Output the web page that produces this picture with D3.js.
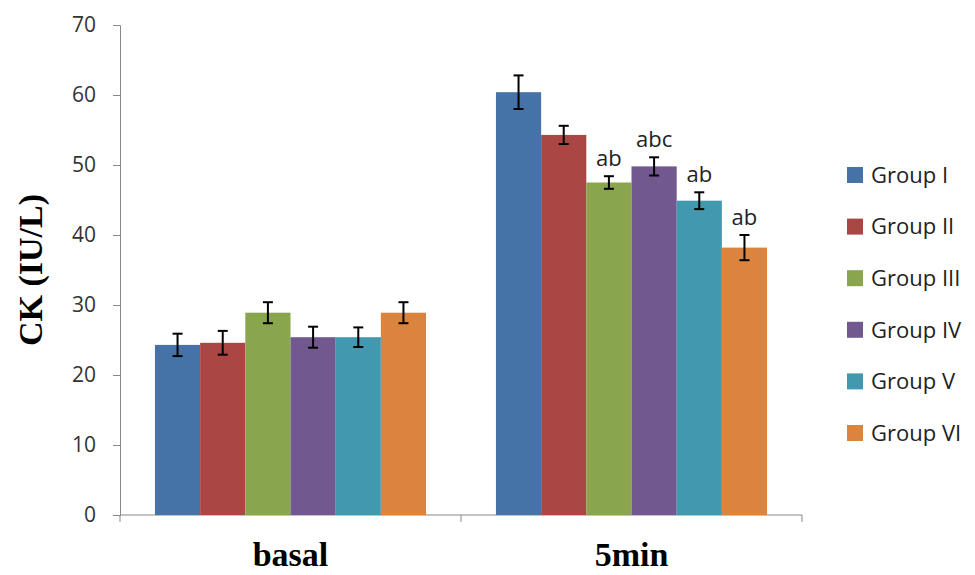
<!DOCTYPE html>
<html>
<head>
<meta charset="utf-8">
<script src="https://cdn.jsdelivr.net/npm/d3@7"></script>
<style>
  body { margin: 0; background: #fff; }
  svg { display: block; }
</style>
</head>
<body>
<div id="chart"></div>
<script>
// values
var categories = ["basal", "5min"];
var groups = ["Group I", "Group II", "Group III", "Group IV", "Group V", "Group VI"];
var basalMeans = [24.3, 24.6, 28.9, 25.4, 25.4, 28.9];
var basalErrs  = [1.6, 1.7, 1.5, 1.5, 1.4, 1.5];
var minMeans   = [60.4, 54.3, 47.5, 49.8, 44.9, 38.2];
var minErrs    = [2.4, 1.3, 0.9, 1.3, 1.2, 1.8];
var minLetters = ["", "", "ab", "abc", "ab", "ab"];
var yTicks = [0, 10, 20, 30, 40, 50, 60, 70];
var colors = ["#4572A7", "#AA4643", "#89A54E", "#71588F", "#4198AF", "#DB843D"];

var rows = [];
categories.forEach(function(c, ci) {
  groups.forEach(function(g, gi) {
    rows.push({
      cat: c, group: g, gi: gi,
      value: ci === 0 ? basalMeans[gi] : minMeans[gi],
      err: ci === 0 ? basalErrs[gi] : minErrs[gi],
      label: ci === 0 ? "" : minLetters[gi]
    });
  });
});

var width = 975, height = 575;
var margin = {top: 25, left: 120, right: 173, bottom: 60};
var plotW = width - margin.left - margin.right,
    plotH = height - margin.top - margin.bottom;

var svg = d3.select("#chart").append("svg")
    .attr("width", width)
    .attr("height", height);

var g = svg.append("g")
    .attr("transform", "translate(" + margin.left + "," + margin.top + ")");

var x0 = d3.scaleBand().domain(categories).range([0, plotW]).paddingInner(0.205).paddingOuter(0.1025);
var x1 = d3.scaleBand().domain(groups).range([0, x0.bandwidth()]);
var y = d3.scaleLinear().domain([0, 70]).range([plotH, 0]);
var color = d3.scaleOrdinal().domain(groups).range(colors);

var sans = "'Open Sans', 'Noto Sans', sans-serif";
var serif = "'Liberation Serif', 'Times New Roman', serif";

// y axis
var yAxis = d3.axisLeft(y).tickValues(yTicks).tickSize(7).tickPadding(17);
var ya = g.append("g").call(yAxis);
ya.select(".domain").attr("stroke", "#888");
ya.selectAll(".tick line").attr("stroke", "#888");
ya.selectAll(".tick text")
    .attr("fill", "#333")
    .style("font-family", sans)
    .style("font-size", "21px");

// x axis line with category boundary ticks
var xa = g.append("g").attr("transform", "translate(0," + plotH + ")");
xa.append("line").attr("x1", 0).attr("x2", plotW).attr("stroke", "#888");
xa.selectAll(".xt")
    .data([0, plotW / 2, plotW])
    .enter().append("line")
    .attr("x1", function(d) { return d; })
    .attr("x2", function(d) { return d; })
    .attr("y1", 0).attr("y2", 7)
    .attr("stroke", "#888");

xa.selectAll(".catlabel")
    .data(categories)
    .enter().append("text")
    .attr("x", function(d) { return x0(d) + x0.bandwidth() / 2; })
    .attr("y", 51)
    .attr("text-anchor", "middle")
    .style("font-family", serif)
    .style("font-weight", "bold")
    .style("font-size", "34px")
    .text(function(d) { return d; });

// bars
g.selectAll(".bar")
    .data(rows)
    .enter().append("rect")
    .attr("class", "bar")
    .attr("x", function(d) { return x0(d.cat) + x1(d.group); })
    .attr("width", x1.bandwidth())
    .attr("y", function(d) { return y(d.value); })
    .attr("height", function(d) { return plotH - y(d.value); })
    .attr("fill", function(d) { return color(d.group); });

// error bars
var eb = g.selectAll(".err")
    .data(rows)
    .enter().append("g")
    .attr("class", "err")
    .attr("transform", function(d) {
      return "translate(" + (x0(d.cat) + x1(d.group) + x1.bandwidth() / 2) + ",0)";
    })
    .attr("stroke", "#000")
    .attr("stroke-width", 2);
eb.append("line")
    .attr("y1", function(d) { return y(d.value + d.err); })
    .attr("y2", function(d) { return y(d.value - d.err); });
eb.append("line")
    .attr("x1", -5).attr("x2", 5)
    .attr("y1", function(d) { return y(d.value + d.err); })
    .attr("y2", function(d) { return y(d.value + d.err); });
eb.append("line")
    .attr("x1", -5).attr("x2", 5)
    .attr("y1", function(d) { return y(d.value - d.err); })
    .attr("y2", function(d) { return y(d.value - d.err); });

// significance letters
g.selectAll(".sig")
    .data(rows.filter(function(d) { return d.label; }))
    .enter().append("text")
    .attr("x", function(d) { return x0(d.cat) + x1(d.group) + x1.bandwidth() / 2; })
    .attr("y", function(d) { return y(d.value + d.err) - 10; })
    .attr("text-anchor", "middle")
    .attr("fill", "#222")
    .style("font-family", sans)
    .style("font-size", "22px")
    .text(function(d) { return d.label; });

// y axis title
svg.append("text")
    .attr("transform", "translate(42," + (margin.top + plotH / 2) + ") rotate(-90)")
    .attr("text-anchor", "middle")
    .style("font-family", serif)
    .style("font-weight", "bold")
    .style("font-size", "34px")
    .text("CK (IU/L)");

// legend
var legend = svg.selectAll(".legend")
    .data(groups)
    .enter().append("g")
    .attr("class", "legend")
    .attr("transform", function(d, i) { return "translate(847," + (175 + i * 51.6) + ")"; });
legend.append("rect")
    .attr("x", 0).attr("y", -8)
    .attr("width", 16).attr("height", 16)
    .attr("fill", function(d) { return color(d); });
legend.append("text")
    .attr("x", 24)
    .attr("dy", "0.35em")
    .attr("fill", "#222")
    .style("font-family", sans)
    .style("font-size", "22px")
    .text(function(d) { return d; });
</script>
</body>
</html>
